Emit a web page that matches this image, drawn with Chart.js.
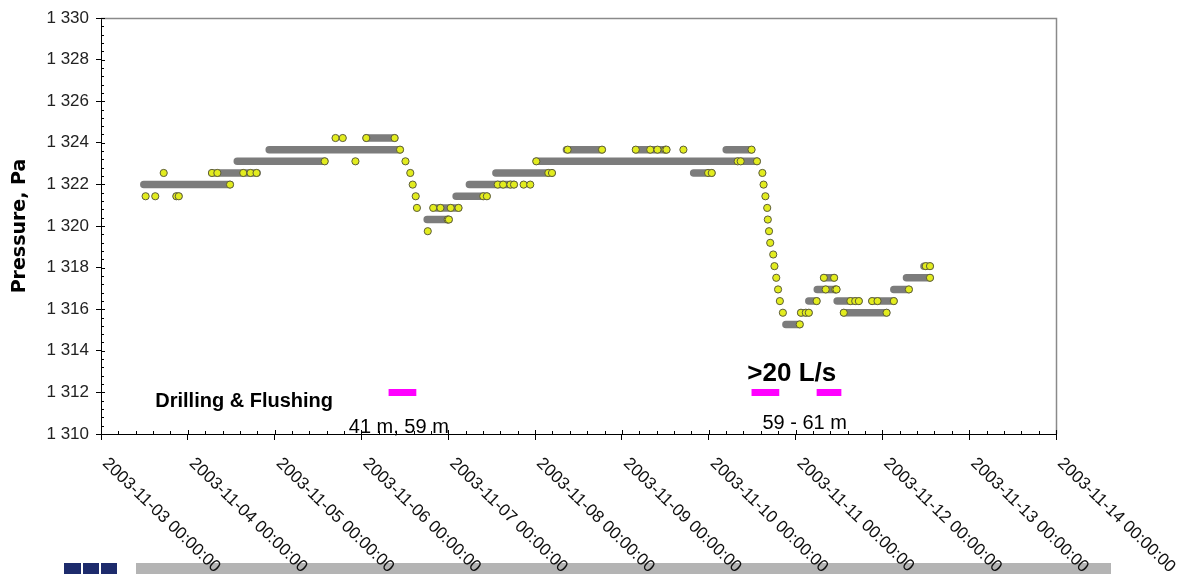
<!DOCTYPE html>
<html><head><meta charset="utf-8">
<script src="https://cdn.jsdelivr.net/npm/chart.js@4/dist/chart.umd.min.js"></script>
<style>
html,body{margin:0;padding:0;background:#fff;}
#wrap{position:relative;width:1181px;height:574px;overflow:hidden;background:#fff;}
#c{position:absolute;left:0;top:0;}
.blk{position:absolute;top:563px;height:11px;}
</style></head><body>
<div id="wrap">
<div class="blk" style="left:64px;width:17px;background:#1d2b6c"></div>
<div class="blk" style="left:83px;width:16px;background:#1d2b6c"></div>
<div class="blk" style="left:101px;width:16px;background:#1d2b6c"></div>
<div class="blk" style="left:136px;width:975px;background:#b4b4b4"></div>
<canvas id="c" width="1181" height="574"></canvas>
</div>
<script>
// ---------------- data ----------------
const xTickLabels = ['2003-11-03 00:00:00','2003-11-04 00:00:00','2003-11-05 00:00:00','2003-11-06 00:00:00',
  '2003-11-07 00:00:00','2003-11-08 00:00:00','2003-11-09 00:00:00','2003-11-10 00:00:00',
  '2003-11-11 00:00:00','2003-11-12 00:00:00','2003-11-13 00:00:00','2003-11-14 00:00:00'];
const xStart = '2003-11-03 00:00';
const xEnd = '2003-11-14 00:00';
const yMin = 1310, yMax = 1330, yStep = 2;

// continuous runs of dense readings (grey)
const runStart = ['2003-11-03 11:50','2003-11-03 20:50','2003-11-04 06:40','2003-11-04 13:40','2003-11-04 22:30',
  '2003-11-06 01:20','2003-11-06 20:50','2003-11-06 18:10','2003-11-07 02:10','2003-11-07 05:50',
  '2003-11-07 13:10','2003-11-08 00:20','2003-11-08 08:40','2003-11-09 03:50','2003-11-10 04:50',
  '2003-11-09 19:50','2003-11-10 21:20','2003-11-11 01:30','2003-11-11 03:40','2003-11-11 06:00',
  '2003-11-11 07:50','2003-11-11 11:30','2003-11-11 13:20','2003-11-11 21:10','2003-11-12 03:10',
  '2003-11-12 06:40','2003-11-12 11:30'];
const runEnd = ['2003-11-04 11:40','2003-11-03 21:30','2003-11-04 19:10','2003-11-05 13:50','2003-11-06 10:40',
  '2003-11-06 09:10','2003-11-07 02:50','2003-11-07 00:10','2003-11-07 10:40','2003-11-07 18:10',
  '2003-11-08 04:40','2003-11-10 13:20','2003-11-08 18:30','2003-11-09 12:20','2003-11-10 11:50',
  '2003-11-10 00:50','2003-11-11 01:10','2003-11-11 03:40','2003-11-11 05:50','2003-11-11 11:20',
  '2003-11-11 10:40','2003-11-11 17:30','2003-11-12 01:10','2003-11-12 03:10','2003-11-12 07:20',
  '2003-11-12 13:10','2003-11-12 13:10'];
const runLevel = [1321.99,1321.43,1322.55,1323.11,1323.67,
  1324.23,1320.87,1320.31,1321.43,1321.99,
  1322.55,1323.11,1323.67,1323.67,1323.67,
  1322.55,1315.27,1315.83,1316.39,1316.95,
  1317.51,1316.39,1315.83,1316.39,1316.95,
  1317.51,1318.07];

// individual readings (yellow)
const pointTime = ['2003-11-03 12:20','2003-11-03 15:00','2003-11-03 17:20','2003-11-03 20:50','2003-11-03 21:30',
  '2003-11-04 06:40','2003-11-04 08:10','2003-11-04 11:40','2003-11-04 15:20','2003-11-04 17:20',
  '2003-11-04 19:00','2003-11-05 13:50','2003-11-05 16:50','2003-11-05 18:50','2003-11-05 22:20',
  '2003-11-06 01:20','2003-11-06 09:10','2003-11-06 10:40','2003-11-06 12:10','2003-11-06 13:30',
  '2003-11-06 14:10','2003-11-06 15:00','2003-11-06 15:20','2003-11-06 18:20','2003-11-06 19:50',
  '2003-11-06 21:50','2003-11-06 23:50','2003-11-07 00:10','2003-11-07 00:40','2003-11-07 02:50',
  '2003-11-07 09:40','2003-11-07 10:40','2003-11-07 13:40','2003-11-07 15:10','2003-11-07 17:10',
  '2003-11-07 18:10','2003-11-07 20:50','2003-11-07 22:40','2003-11-08 00:20','2003-11-08 03:40',
  '2003-11-08 04:40','2003-11-08 09:00','2003-11-08 18:30','2003-11-09 03:50','2003-11-09 07:50',
  '2003-11-09 09:50','2003-11-09 12:00','2003-11-09 12:20','2003-11-09 17:00','2003-11-09 23:50',
  '2003-11-10 00:50','2003-11-10 08:00','2003-11-10 08:50','2003-11-10 11:50','2003-11-10 13:20',
  '2003-11-10 14:50','2003-11-10 15:10','2003-11-10 15:40','2003-11-10 16:10','2003-11-10 16:20',
  '2003-11-10 16:40','2003-11-10 17:00','2003-11-10 17:50','2003-11-10 18:10','2003-11-10 18:40',
  '2003-11-10 19:10','2003-11-10 19:40','2003-11-10 20:30','2003-11-11 01:10','2003-11-11 01:30',
  '2003-11-11 02:50','2003-11-11 03:40','2003-11-11 05:50','2003-11-11 07:50','2003-11-11 08:20',
  '2003-11-11 10:40','2003-11-11 11:00','2003-11-11 11:20','2003-11-11 13:20','2003-11-11 15:10',
  '2003-11-11 16:30','2003-11-11 17:30','2003-11-11 21:10','2003-11-11 22:40','2003-11-12 01:10',
  '2003-11-12 03:10','2003-11-12 07:20','2003-11-12 12:00','2003-11-12 13:10','2003-11-12 13:10'];
const pointLevel = [1321.43,1321.43,1322.55,1321.43,1321.43,
  1322.55,1322.55,1321.99,1322.55,1322.55,
  1322.55,1323.11,1324.23,1324.23,1323.11,
  1324.23,1324.23,1323.67,1323.11,1322.55,
  1321.99,1321.43,1320.87,1319.75,1320.87,
  1320.87,1320.31,1320.31,1320.87,1320.87,
  1321.43,1321.43,1321.99,1321.99,1321.99,
  1321.99,1321.99,1321.99,1323.11,1322.55,
  1322.55,1323.67,1323.67,1323.67,1323.67,
  1323.67,1323.67,1323.67,1323.67,1322.55,
  1322.55,1323.11,1323.11,1323.67,1323.11,
  1322.55,1321.99,1321.43,1320.87,1320.31,
  1319.75,1319.19,1318.63,1318.07,1317.51,
  1316.95,1316.39,1315.83,1315.27,1315.83,
  1315.83,1315.83,1316.39,1317.51,1316.95,
  1317.51,1316.95,1316.95,1315.83,1316.39,
  1316.39,1316.39,1316.39,1316.39,1315.83,
  1316.39,1316.95,1318.07,1318.07,1317.51];

// drilling / flushing periods
const activityStart = ['2003-11-06 07:30','2003-11-10 11:50','2003-11-11 05:50'];
const activityEnd   = ['2003-11-06 15:10','2003-11-10 19:30','2003-11-11 12:40'];
const activityLevel = [1312,1312,1312];

// text notes
const noteText  = ['Drilling & Flushing','41 m, 59 m','>20 L/s','59 - 61 m'];
const noteTime  = ['2003-11-03 15:00','2003-11-05 20:30','2003-11-10 10:40','2003-11-10 14:50'];
const noteValue = [1311.32,1310.07,1312.56,1310.23];
const noteFont  = ['bold 20px "Liberation Sans", Arial','20px "Liberation Sans", Arial','bold 26px "Liberation Sans", Arial','20px "Liberation Sans", Arial'];

// ---------------- helpers ----------------
function toMs(s){
  const [d,t] = s.split(' ');
  const [Y,M,D] = d.split('-').map(Number);
  const [h,m] = t.split(':').map(Number);
  return Date.UTC(Y, M-1, D, h, m);
}
function segments(starts, ends, levels){
  const out = [];
  for (let i=0;i<starts.length;i++){
    out.push({x:toMs(starts[i]), y:levels[i]});
    out.push({x:toMs(ends[i]), y:levels[i]});
    out.push({x:toMs(ends[i]), y:null});
  }
  return out;
}
const runData = segments(runStart, runEnd, runLevel);
const actData = segments(activityStart, activityEnd, activityLevel);
const ptData = pointTime.map((t,i)=>({x:toMs(t), y:pointLevel[i]}));

const decor = {
  id:'decor',
  afterDraw(chart){
    const ctx = chart.ctx, ca = chart.chartArea;
    const xs = chart.scales.x, ys = chart.scales.y;
    ctx.save();
    // top & right frame
    ctx.strokeStyle = '#8a8a8a'; ctx.lineWidth = 1.5;
    ctx.beginPath();
    ctx.moveTo(ca.left, ca.top+0.5); ctx.lineTo(ca.right+0.5, ca.top+0.5); ctx.lineTo(ca.right+0.5, ca.bottom);
    ctx.stroke();
    // inner ticks
    ctx.strokeStyle = '#000'; ctx.lineWidth = 1;
    ctx.beginPath();
    const ySub = yStep/5;
    for (let k=0;k<=Math.round((yMax-yMin)/ySub);k++){
      const v = yMin + k*ySub;
      const py = Math.round(ys.getPixelForValue(v))+0.5;
      const len = (k%5===0)?4:3;
      ctx.moveTo(ca.left, py); ctx.lineTo(ca.left+len, py);
    }
    const x0 = toMs(xStart), x1 = toMs(xEnd), xSub = 86400000/5;
    for (let k=0;k<=Math.round((x1-x0)/xSub);k++){
      const v = x0 + k*xSub;
      const px = Math.round(xs.getPixelForValue(v))+0.5;
      const len = (k%5===0)?4:3;
      ctx.moveTo(px, ca.bottom); ctx.lineTo(px, ca.bottom-len);
    }
    ctx.stroke();
    // x tick labels rotated
    ctx.fillStyle = '#111';
    ctx.font = '17px "Liberation Sans", Arial';
    ctx.textAlign = 'left'; ctx.textBaseline = 'middle';
    xs.ticks.forEach((t,i)=>{
      const px = xs.getPixelForValue(t.value);
      ctx.save();
      ctx.translate(px+4, ca.bottom+27);
      ctx.rotate(44*Math.PI/180);
      ctx.fillText(xTickLabels[i] || '', 0, 0);
      ctx.restore();
    });
    // y title
    ctx.save();
    ctx.translate(20.5, (ca.top+ca.bottom)/2);
    ctx.rotate(-Math.PI/2);
    ctx.textAlign='center'; ctx.textBaseline='middle';
    ctx.font = 'bold 19px "DejaVu Sans"';
    ctx.fillStyle = '#000';
    ctx.fillText('Pressure, Pa', 0, 0);
    ctx.restore();
    // notes
    ctx.textAlign='left'; ctx.textBaseline='alphabetic';
    noteText.forEach((s,i)=>{
      ctx.font = noteFont[i];
      ctx.fillStyle = '#000';
      ctx.fillText(s, xs.getPixelForValue(toMs(noteTime[i])), ys.getPixelForValue(noteValue[i]));
    });
    ctx.restore();
  }
};

new Chart(document.getElementById('c'), {
  type:'scatter',
  data:{ datasets:[
    { label:'readings', data: ptData, order:0,
      pointRadius:3.6, pointBackgroundColor:'#e2ec1e', pointBorderColor:'#5c5c3a', pointBorderWidth:1, showLine:false },
    { label:'runs', data: runData, order:1, showLine:true, pointRadius:0,
      borderColor:'#7c7c7c', borderWidth:7.5, borderCapStyle:'round', spanGaps:false },
    { label:'activity', data: actData, order:2, showLine:true, pointRadius:0,
      borderColor:'#ff00ff', borderWidth:7, borderCapStyle:'butt', spanGaps:false }
  ]},
  options:{
    responsive:false, animation:false, devicePixelRatio:1,
    layout:{ padding:{ top:18, right:125, bottom:0, left:0 } },
    plugins:{ legend:{display:false}, tooltip:{enabled:false} },
    scales:{
      x:{ type:'linear', min: toMs(xStart), max: toMs(xEnd),
        afterFit(s){ s.height = 140; },
        ticks:{ display:false, stepSize: 86400000, maxTicksLimit: 30 },
        grid:{ drawOnChartArea:false, drawTicks:true, tickLength:6, tickColor:'#000' },
        border:{ color:'#000', width:1 } },
      y:{ type:'linear', min:yMin, max:yMax,
        afterFit(s){ s.width = 101; },
        ticks:{ stepSize:yStep, maxTicksLimit: 30, padding:7, color:'#222',
          font:{ family:'"Liberation Sans", Arial', size:17 },
          callback:(v)=>{ const s=String(v); return s.length>3 ? s.slice(0,s.length-3)+' '+s.slice(-3) : s; } },
        grid:{ drawOnChartArea:false, drawTicks:true, tickLength:5, tickColor:'#000' },
        border:{ color:'#000', width:1 } }
    }
  },
  plugins:[decor]
});
</script>
</body></html>
